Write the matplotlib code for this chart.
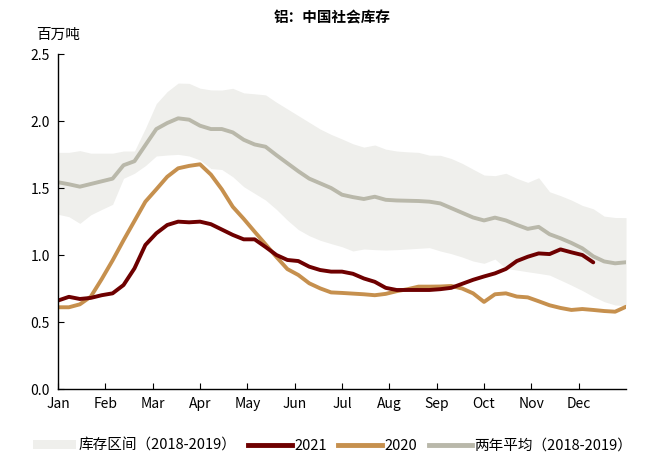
import numpy as np
import matplotlib
matplotlib.use("Agg")
import matplotlib.pyplot as plt
from matplotlib.patches import Patch
from matplotlib.lines import Line2D

plt.rcParams["font.family"] = ["Noto Sans CJK SC", "DejaVu Sans"]

MONTHS = ["Jan", "Feb", "Mar", "Apr", "May", "Jun",
          "Jul", "Aug", "Sep", "Oct", "Nov", "Dec"]

# weekly values, million tonnes
band_upper = [1.766, 1.766, 1.779, 1.76, 1.76, 1.76, 1.776, 1.776, 1.945, 2.13,
              2.22, 2.283, 2.281, 2.245, 2.232, 2.231, 2.244, 2.21, 2.203, 2.195,
              2.14, 2.09, 2.04, 1.99, 1.94, 1.90, 1.866, 1.83, 1.805, 1.821,
              1.79, 1.776, 1.77, 1.766, 1.745, 1.744, 1.72, 1.684, 1.64, 1.597,
              1.592, 1.61, 1.572, 1.542, 1.577, 1.472, 1.443, 1.41, 1.37, 1.345,
              1.29, 1.28, 1.279]
band_lower = [1.304, 1.286, 1.236, 1.30, 1.34, 1.378, 1.572, 1.61, 1.667, 1.739,
              1.746, 1.751, 1.739, 1.709, 1.645, 1.638, 1.584, 1.51, 1.46, 1.41,
              1.34, 1.26, 1.19, 1.144, 1.11, 1.085, 1.062, 1.03, 1.045, 1.04,
              1.037, 1.04, 1.045, 1.05, 1.055, 1.03, 1.01, 0.985, 0.955, 0.938,
              0.97, 0.90, 0.888, 0.875, 0.863, 0.85, 0.813, 0.775, 0.735, 0.69,
              0.652, 0.627, 0.622]
avg_1819 = [1.543, 1.528, 1.51, 1.53, 1.55, 1.57, 1.67, 1.70, 1.82, 1.94,
            1.985, 2.02, 2.01, 1.965, 1.94, 1.94, 1.915, 1.86, 1.825, 1.808,
            1.745, 1.685, 1.625, 1.57, 1.535, 1.50, 1.45, 1.432, 1.418, 1.435,
            1.412, 1.407, 1.405, 1.403, 1.398, 1.385, 1.35, 1.315, 1.28, 1.258,
            1.279, 1.258, 1.225, 1.195, 1.21, 1.155, 1.125, 1.09, 1.05, 0.99,
            0.952, 0.938, 0.946]
y2021 = [0.66, 0.688, 0.672, 0.68, 0.70, 0.714, 0.776, 0.90, 1.075, 1.162,
         1.224, 1.249, 1.244, 1.249, 1.23, 1.19, 1.15, 1.117, 1.117, 1.06,
         1.0, 0.963, 0.955, 0.913, 0.888, 0.876, 0.876, 0.86, 0.825, 0.80,
         0.755, 0.739, 0.739, 0.739, 0.739, 0.745, 0.755, 0.785, 0.815, 0.84,
         0.863, 0.896, 0.955, 0.987, 1.012, 1.007, 1.042, 1.02, 1.0, 0.945]
y2020 = [0.61, 0.61, 0.632, 0.689, 0.82, 0.96, 1.11, 1.254, 1.398, 1.49,
         1.584, 1.647, 1.665, 1.677, 1.60, 1.49, 1.36, 1.27, 1.174, 1.08,
         0.985, 0.895, 0.851, 0.789, 0.751, 0.721, 0.717, 0.712, 0.707, 0.70,
         0.71, 0.73, 0.745, 0.764, 0.764, 0.765, 0.769, 0.75, 0.714, 0.65,
         0.707, 0.714, 0.69, 0.684, 0.655, 0.625, 0.605, 0.59, 0.597, 0.59,
         0.582, 0.577, 0.614]

C_BAND = "#efefec"
C_AVG = "#b9b8aa"
C_2021 = "#6e0000"
C_2020 = "#c6904e"

weeks = np.arange(len(band_upper))
n_weeks = len(band_upper) - 1
month_pos = np.arange(12) * n_weeks / 12

fig = plt.figure(figsize=(6.65, 4.7), dpi=100)
ax = fig.add_axes([0.0872, 0.1723, 0.8542, 0.7128])

ax.fill_between(weeks, band_lower, band_upper, color=C_BAND, linewidth=0)
ax.plot(weeks, avg_1819, color=C_AVG, linewidth=2.8, solid_capstyle="round")
ax.plot(np.arange(len(y2020)), y2020, color=C_2020, linewidth=2.8, solid_capstyle="round")
ax.plot(np.arange(len(y2021)), y2021, color=C_2021, linewidth=2.8, solid_capstyle="round")

ax.set_xlim(0, n_weeks)
ax.set_ylim(0, 2.5)
ax.set_yticks([0.0, 0.5, 1.0, 1.5, 2.0, 2.5])
ax.set_yticklabels(["0.0", "0.5", "1.0", "1.5", "2.0", "2.5"])
ax.set_xticks(month_pos)
ax.set_xticklabels(MONTHS)
ax.tick_params(direction="in", length=4, width=0.8, labelsize=10, pad=6)
ax.spines["top"].set_visible(False)
ax.spines["right"].set_visible(False)
ax.spines["left"].set_linewidth(1.0)
ax.spines["bottom"].set_linewidth(1.0)

fig.text(0.5, 0.962, "铝：中国社会库存", ha="center", va="center",
         fontsize=10.5, fontweight="bold")
fig.text(0.055, 0.925, "百万吨", ha="left", va="center", fontsize=10.5)

handles = [
    Patch(facecolor=C_BAND, edgecolor="none", label="库存区间（2018-2019）"),
    Line2D([0], [0], color=C_2021, linewidth=3.5, label="2021"),
    Line2D([0], [0], color=C_2020, linewidth=3.5, label="2020"),
    Line2D([0], [0], color=C_AVG, linewidth=3.5, label="两年平均（2018-2019）"),
]
fig.legend(handles=handles, loc="center", bbox_to_anchor=(0.5, 0.052), ncol=4,
           frameon=False, fontsize=10.5, handlelength=3.0, handleheight=0.5,
           handletextpad=0.15, columnspacing=0.8)

fig.savefig("out.png", dpi=100)
